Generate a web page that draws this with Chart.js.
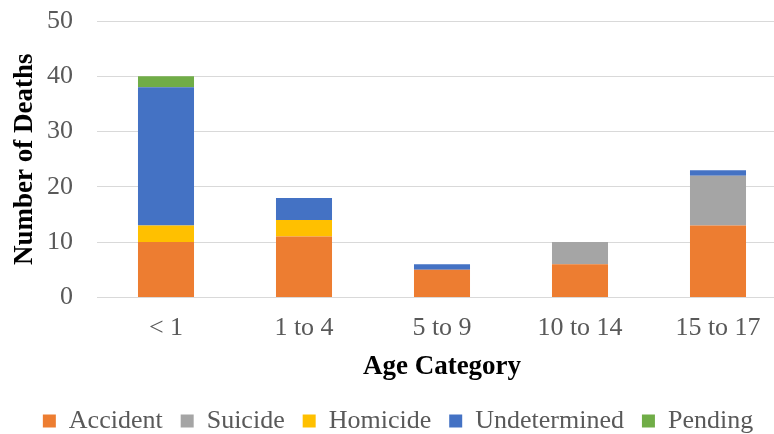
<!DOCTYPE html>
<html>
<head>
<meta charset="utf-8">
<script src="https://cdn.jsdelivr.net/npm/chart.js@4"></script>
<style>
  html, body { margin: 0; padding: 0; background: #fff; overflow: hidden; }
  /* the reference is cropped on the right: draw a bit wider and clip */
  #wrap { width: 774px; height: 434px; overflow: hidden; }
</style>
</head>
<body>
<div id="wrap"><canvas id="chart" width="788" height="434"></canvas></div>
<script>
const ageGroups = ["< 1", "1 to 4", "5 to 9", "10 to 14", "15 to 17"];
const accident = [10, 11, 5, 6, 13];
const suicide = [0, 0, 0, 4, 9];
const homicide = [3, 3, 0, 0, 0];
const undetermined = [25, 4, 1, 0, 1];
const pending = [2, 0, 0, 0, 0];
const yTicks = [0, 10, 20, 30, 40, 50];

const serif = "'Liberation Serif', 'Times New Roman', serif";
const gray = "#595959";

const series = [
  { label: "Accident", data: accident, color: "#ED7D31" },
  { label: "Suicide", data: suicide, color: "#A5A5A5" },
  { label: "Homicide", data: homicide, color: "#FFC000" },
  { label: "Undetermined", data: undetermined, color: "#4472C4" },
  { label: "Pending", data: pending, color: "#70AD47" },
];

new Chart(document.getElementById("chart"), {
  type: "bar",
  data: {
    labels: ageGroups,
    datasets: series.map((s) => ({
      label: s.label,
      data: s.data,
      backgroundColor: s.color,
      borderWidth: 0,
      barPercentage: 0.406,
      categoryPercentage: 1,
    })),
  },
  options: {
    responsive: false,
    animation: false,
    layout: { padding: { top: 21, right: 1, left: 9, bottom: -10 } },
    plugins: {
      legend: {
        position: "bottom",
        labels: {
          boxWidth: 13,
          boxHeight: 13,
          padding: 18,
          color: gray,
          font: { family: serif, size: 26 },
        },
      },
      tooltip: { enabled: false },
    },
    scales: {
      x: {
        stacked: true,
        grid: { display: false },
        border: { display: false },
        ticks: { color: gray, font: { family: serif, size: 26 }, padding: 7 },
        title: {
          display: true,
          text: "Age Category",
          color: "#000",
          font: { family: serif, size: 27, weight: "bold" },
          padding: { top: 0, bottom: 7 },
        },
      },
      y: {
        stacked: true,
        min: 0,
        max: 50,
        afterBuildTicks: (axis) => {
          axis.ticks = yTicks.map((v) => ({ value: v }));
        },
        afterFit: (axis) => {
          // keep the plot edge where the reference has it
          axis.width = 88;
          axis.paddingTop = 0;
          axis.paddingBottom = 0;
        },
        grid: { color: "#d9d9d9", lineWidth: 1, drawTicks: false },
        border: { display: false },
        ticks: { color: gray, font: { family: serif, size: 26 }, padding: 24 },
        title: {
          display: true,
          text: "Number of Deaths",
          color: "#000",
          font: { family: serif, size: 27, weight: "bold" },
          padding: { top: 0, bottom: 4 },
        },
      },
    },
  },
});
</script>
</body>
</html>
